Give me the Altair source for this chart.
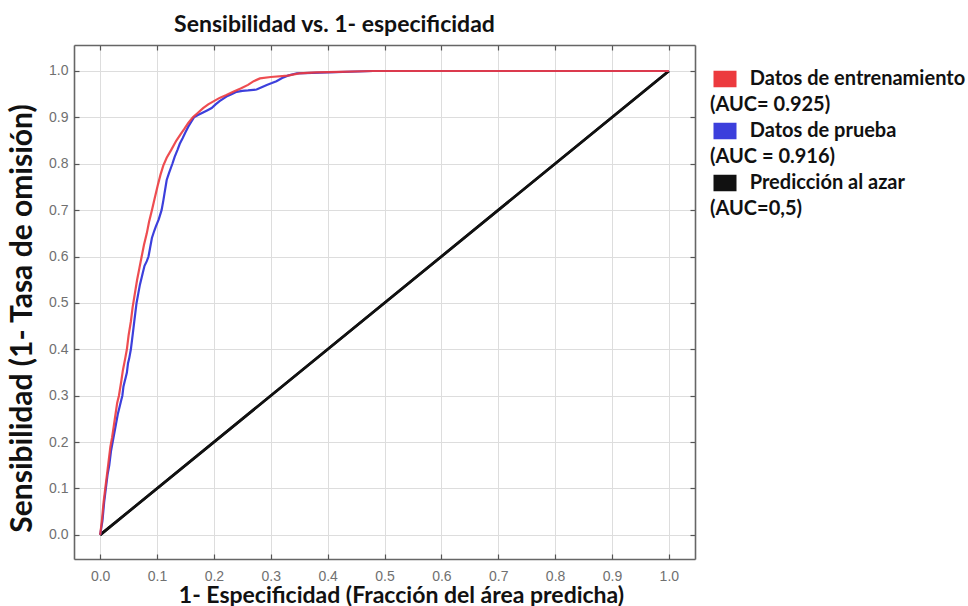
import altair as alt
import pandas as pd

# ROC curve, training data
fpr_train = [0.0, 0.003, 0.006, 0.009, 0.012, 0.015, 0.018, 0.021, 0.024, 0.027,
             0.030, 0.033, 0.037, 0.040, 0.044, 0.047, 0.050, 0.054, 0.057, 0.061,
             0.065, 0.069, 0.073, 0.077, 0.082, 0.086, 0.091, 0.096, 0.101, 0.106,
             0.111, 0.117, 0.125, 0.134, 0.141, 0.148, 0.155, 0.163, 0.172, 0.181,
             0.190, 0.200, 0.210, 0.222, 0.234, 0.247, 0.260, 0.270, 0.281, 0.300,
             0.330, 0.350, 0.380, 0.420, 0.480, 1.0]
tpr_train = [0.0, 0.03, 0.07, 0.10, 0.13, 0.16, 0.19, 0.21, 0.235, 0.26,
             0.285, 0.30, 0.33, 0.355, 0.38, 0.40, 0.43, 0.46, 0.49, 0.52,
             0.55, 0.575, 0.60, 0.625, 0.65, 0.675, 0.70, 0.726, 0.752, 0.776,
             0.796, 0.813, 0.830, 0.85, 0.863, 0.875, 0.888, 0.90, 0.91, 0.92,
             0.928, 0.935, 0.942, 0.948, 0.955, 0.962, 0.970, 0.978, 0.984, 0.987,
             0.990, 0.995, 0.997, 0.998, 1.0, 1.0]

# ROC curve, test data
fpr_test = [0.0, 0.004, 0.007, 0.010, 0.013, 0.016, 0.019, 0.022, 0.025, 0.028,
            0.031, 0.034, 0.037, 0.039, 0.041, 0.043, 0.045, 0.047, 0.049, 0.051,
            0.054, 0.056, 0.058, 0.060, 0.062, 0.064, 0.067, 0.070, 0.073, 0.075,
            0.078, 0.082, 0.085, 0.088, 0.091, 0.095, 0.098, 0.103, 0.108, 0.111,
            0.113, 0.115, 0.117, 0.121, 0.127, 0.131, 0.136, 0.140, 0.145, 0.150,
            0.155, 0.160, 0.165, 0.172, 0.180, 0.188, 0.196, 0.203, 0.210, 0.216,
            0.222, 0.231, 0.240, 0.250, 0.260, 0.275, 0.284, 0.293, 0.302, 0.310,
            0.320, 0.330, 0.346, 0.400, 0.480, 1.0]
tpr_test = [0.0, 0.03, 0.07, 0.10, 0.13, 0.15, 0.18, 0.20, 0.22, 0.24,
            0.26, 0.275, 0.29, 0.30, 0.32, 0.33, 0.34, 0.35, 0.37, 0.38,
            0.40, 0.42, 0.44, 0.46, 0.48, 0.50, 0.52, 0.54, 0.555, 0.565,
            0.58, 0.59, 0.60, 0.62, 0.64, 0.655, 0.665, 0.68, 0.70, 0.72,
            0.735, 0.75, 0.765, 0.78, 0.80, 0.815, 0.83, 0.843, 0.855, 0.868,
            0.88, 0.89, 0.90, 0.905, 0.91, 0.915, 0.92, 0.928, 0.935, 0.94,
            0.945, 0.95, 0.955, 0.957, 0.958, 0.960, 0.965, 0.970, 0.974, 0.978,
            0.985, 0.990, 0.995, 0.997, 1.0, 1.0]

# Random prediction reference line
fpr_chance = [0.0, 1.0]
tpr_chance = [0.0, 1.0]

# legend rows: series name (indented past the swatch) followed by its AUC
INDENT = "\u200b\u2003\u2003\u00a0\u00a0"
series_names = [INDENT + "Datos de entrenamiento",
                INDENT + "Datos de prueba",
                INDENT + "Predicción al azar"]
auc_labels = ["(AUC= 0.925)", "(AUC = 0.916)", "(AUC=0,5)"]
series_colors = ["#ec3a3e", "#3c3fdc", "#111111"]

legend_domain = []
legend_range = []
for name, auc, col in zip(series_names, auc_labels, series_colors):
    legend_domain += [name, auc]
    legend_range += [col, "rgba(0,0,0,0)"]

tick_values = [0.0, 0.1, 0.2, 0.3, 0.4, 0.5, 0.6, 0.7, 0.8, 0.9, 1.0]

train_df = pd.DataFrame({"fpr": fpr_train, "tpr": tpr_train, "serie": series_names[0]})
train_df["orden"] = range(len(train_df))
test_df = pd.DataFrame({"fpr": fpr_test, "tpr": tpr_test, "serie": series_names[1]})
test_df["orden"] = range(len(test_df))
chance_df = pd.DataFrame({"fpr": fpr_chance, "tpr": tpr_chance, "serie": series_names[2]})
chance_df["orden"] = range(len(chance_df))

x_scale = alt.Scale(domain=[-0.046, 1.046], nice=False, zero=False)
y_scale = alt.Scale(domain=[-0.052, 1.056], nice=False, zero=False)

# stacked thin strokes form a solid swatch under the label indent
legend_symbol = "".join(f"M13.5,{y}H36.5" for y in (-7, -5, -3, -1, 1, 3, 5, 7))

color = alt.Color(
    "serie:N",
    scale=alt.Scale(domain=legend_domain, range=legend_range),
    legend=alt.Legend(
        orient="none",
        legendX=616,
        legendY=24,
        title=None,
        padding=0,
        rowPadding=0,
        labelFont="Lato",
        labelFontWeight="bold",
        labelFontSize=20,
        labelColor="#111111",
        labelLimit=0,
        labelOffset=0,
        symbolType=legend_symbol,
        symbolSize=4,
        symbolStrokeWidth=2.6,
        symbolOpacity=1,
    ),
)

tick_font = "Liberation Sans"
frame_color = "#666666"

main_x_axis = alt.Axis(
    orient="bottom", values=tick_values, format=".1f", grid=True, ticks=False,
    domain=True, domainColor=frame_color, domainWidth=1.6,
    labelPadding=10, labelFontSize=14, labelFont=tick_font,
    labelColor="#707070", title="1- Especificidad (Fracción del área predicha)",
    titleFont="Lato", titleFontSize=23, titleFontWeight="bold", titleColor="#111111",
    titleX=327, titleY=43, titleBaseline="alphabetic", titleAnchor="start",
    titleAlign="center",
)
main_y_axis = alt.Axis(
    orient="left", values=tick_values, format=".1f", grid=True, ticks=False,
    domain=True, domainColor=frame_color, domainWidth=1.6,
    labelPadding=6, labelFontSize=14, labelFont=tick_font,
    labelColor="#707070", title="Sensibilidad (1- Tasa de omisión)",
    titleFont="Lato", titleFontSize=30, titleFontWeight="bold", titleColor="#111111",
    titleX=-43, titleY=273, titleAngle=-90, titleAlign="center",
    titleBaseline="alphabetic",
)


def frame_edge(orient):
    return alt.Axis(
        orient=orient, values=tick_values, grid=False, labels=False, ticks=False,
        domain=True, domainColor=frame_color, domainWidth=1.6, title=None,
    )


def inner_ticks(orient):
    return alt.Axis(
        orient=orient, values=tick_values, grid=False, labels=False, domain=False,
        ticks=True, tickSize=5, tickWidth=1.2, tickColor="#555555", offset=-5,
        title=None,
    )


chance = alt.Chart(chance_df).mark_line(strokeWidth=2.6).encode(
    x=alt.X("fpr:Q", scale=x_scale, axis=main_x_axis),
    y=alt.Y("tpr:Q", scale=y_scale, axis=main_y_axis),
    order="orden:Q",
    color=color,
)

# carries the inward ticks of the top and right edges only
edge_ticks = alt.Chart(chance_df).mark_line(strokeWidth=2.6).encode(
    x=alt.X("fpr:Q", scale=x_scale, axis=inner_ticks("top")),
    y=alt.Y("tpr:Q", scale=y_scale, axis=inner_ticks("right")),
    order="orden:Q",
    color=color,
)

test = alt.Chart(test_df).mark_line(strokeWidth=2.2).encode(
    x=alt.X("fpr:Q", scale=x_scale, axis=frame_edge("top")),
    y=alt.Y("tpr:Q", scale=y_scale, axis=frame_edge("right")),
    order="orden:Q",
    color=color,
)

train = alt.Chart(train_df).mark_line(strokeWidth=2.2, opacity=0.9).encode(
    x=alt.X("fpr:Q", scale=x_scale, axis=inner_ticks("bottom")),
    y=alt.Y("tpr:Q", scale=y_scale, axis=inner_ticks("left")),
    order="orden:Q",
    color=color,
)

chart = (
    alt.layer(chance, edge_ticks, test, train)
    .resolve_axis(x="independent", y="independent")
    .properties(
        width=621,
        height=514,
        autosize=alt.AutoSizeParams(type="none"),
        padding={"left": 74, "top": 45, "right": 273, "bottom": 47},
        title=alt.Title(
            "Sensibilidad vs. 1- especificidad", font="Lato", fontSize=23,
            fontWeight="bold", color="#111111", anchor="middle", dx=-50, offset=7,
        ),
    )
    .configure_view(stroke=frame_color, strokeWidth=1.6)
    .configure_axis(gridColor="#d6d6d6", gridWidth=1.5)
    .configure(background="white")
)

chart.save("out.html", embed_options={"renderer": "svg", "actions": False})
